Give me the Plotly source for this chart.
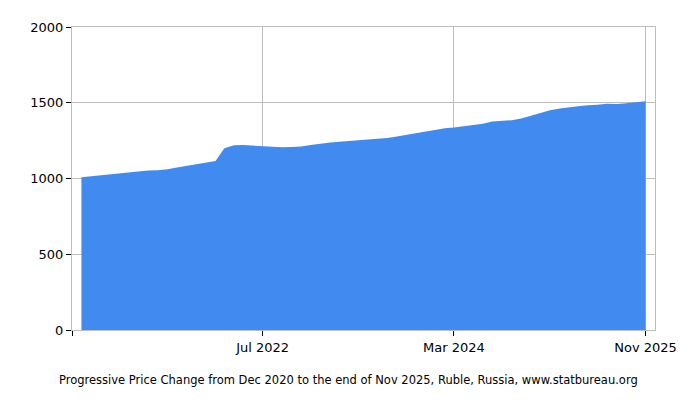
import plotly.graph_objects as go

# monthly points, Dec 2020 .. Nov 2025
months = [
    "2020-12", "2021-01", "2021-02", "2021-03", "2021-04", "2021-05", "2021-06",
    "2021-07", "2021-08", "2021-09", "2021-10", "2021-11", "2021-12",
    "2022-01", "2022-02", "2022-03", "2022-04", "2022-05", "2022-06",
    "2022-07", "2022-08", "2022-09", "2022-10", "2022-11", "2022-12",
    "2023-01", "2023-02", "2023-03", "2023-04", "2023-05", "2023-06",
    "2023-07", "2023-08", "2023-09", "2023-10", "2023-11", "2023-12",
    "2024-01", "2024-02", "2024-03", "2024-04", "2024-05", "2024-06",
    "2024-07", "2024-08", "2024-09", "2024-10", "2024-11", "2024-12",
    "2025-01", "2025-02", "2025-03", "2025-04", "2025-05", "2025-06",
    "2025-07", "2025-08", "2025-09", "2025-10", "2025-11",
]
price = [
    1008, 1015, 1022, 1029, 1035, 1043, 1050,
    1053, 1055, 1061, 1073, 1083, 1092,
    1103, 1116, 1200, 1219, 1221, 1217,
    1212, 1206, 1206, 1208, 1212, 1221,
    1231, 1237, 1242, 1247, 1251, 1255,
    1263, 1267, 1277, 1288, 1302, 1311,
    1322, 1331, 1336, 1343, 1352, 1361,
    1376, 1379, 1385, 1396, 1415, 1433,
    1451, 1462, 1471, 1477, 1483, 1486,
    1494, 1491, 1496, 1503, 1510,
]

tick_vals = ["2020-11-01", "2022-07-01", "2024-03-01", "2025-11-01"]
tick_text = ["", "Jul 2022", "Mar 2024", "Nov 2025"]
y_ticks = [0, 500, 1000, 1500, 2000]

x_dates = [m + "-01" for m in months]

fig = go.Figure()
fig.add_trace(go.Scatter(
    x=x_dates,
    y=price,
    mode="lines",
    line=dict(width=0, color="#418BF0"),
    fill="tozeroy",
    fillcolor="#418BF0",
    showlegend=False,
    hoverinfo="x+y",
))

# page body adds an 8px offset, so margins are trimmed to compensate
fig.update_layout(
    width=700, height=400,
    margin=dict(l=64, r=53, t=14, b=78),
    paper_bgcolor="white",
    plot_bgcolor="white",
    font=dict(family="DejaVu Sans", size=13, color="black"),
    xaxis=dict(
        type="date",
        range=["2020-11-01", "2025-12-01"],
        tickvals=tick_vals,
        ticktext=tick_text,
        showgrid=True,
        gridcolor="#BDBDBD",
        showline=True,
        linecolor="#BDBDBD",
        mirror=True,
        ticks="outside",
        tickcolor="black",
        ticklen=5,
        zeroline=False,
    ),
    yaxis=dict(
        range=[0, 2000],
        tickvals=y_ticks,
        showgrid=True,
        gridcolor="#BDBDBD",
        showline=True,
        linecolor="#BDBDBD",
        mirror=True,
        ticks="outside",
        tickcolor="black",
        ticklen=5,
        zeroline=False,
    ),
)

fig.add_annotation(
    text="Progressive Price Change from Dec 2020 to the end of Nov 2025, Ruble, Russia, www.statbureau.org",
    xref="paper", yref="paper",
    x=0.475, y=-0.166,
    xanchor="center", yanchor="middle",
    showarrow=False,
    font=dict(size=11.5, color="black"),
)

fig.write_html("out.html")
